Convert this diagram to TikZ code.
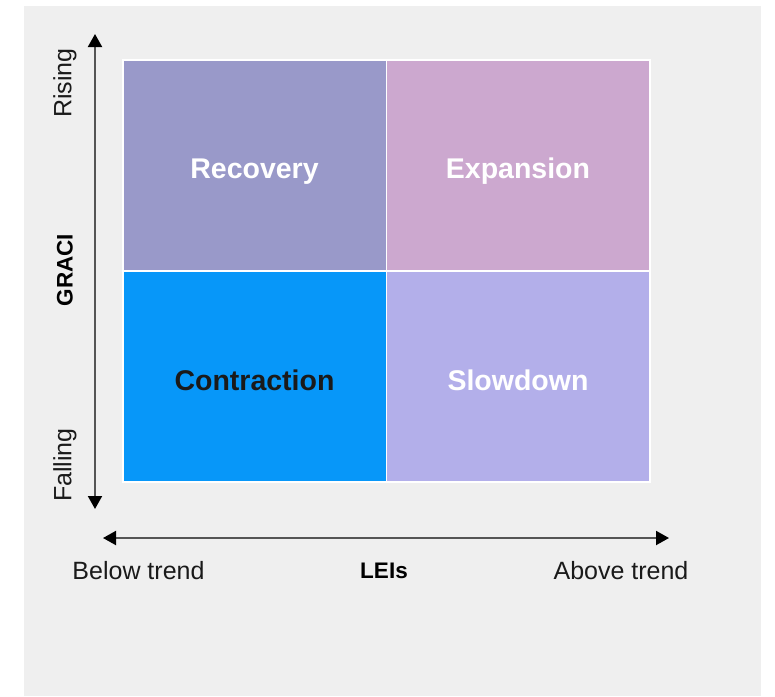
\documentclass[tikz,border=0pt]{standalone}
\usepackage{fontspec}
\setmainfont{Liberation Sans}
\usetikzlibrary{arrows.meta}
\definecolor{bg}{HTML}{EFEFEF}
\definecolor{recov}{HTML}{9999C9}
\definecolor{expan}{HTML}{CCA8CF}
\definecolor{contr}{HTML}{0797F9}
\definecolor{slowd}{HTML}{B3AFEA}
\definecolor{axisgrey}{HTML}{555555}
\definecolor{txt}{HTML}{1A1A1A}
\tikzset{
  cell/.style={draw=white, line width=1.2pt, minimum width=263.5pt, minimum height=211pt, inner sep=0pt,
    font=\fontsize{28.5}{33}\selectfont\bfseries, text=white},
  axisline/.style={draw=axisgrey, line width=2pt,
    {Triangle[length=13pt,width=14pt,color=black]}-{Triangle[length=13pt,width=14pt,color=black]}},
  axlab/.style={font=\fontsize{25}{29}\selectfont, text=txt},
  axbold/.style={font=\fontsize{22.5}{26}\selectfont\bfseries, text=black}
}
\begin{document}
\begin{tikzpicture}[x=1pt,y=-1pt]
\useasboundingbox (0,0) rectangle (775,696);
\fill[white] (0,0) rectangle (775,696);
\fill[bg] (24,6) rectangle (761,696);
\node[cell, fill=recov] (rec) at (254.75,165.5) {};
\node[cell, fill=expan] (exp) at (518.25,165.5) {};
\node[cell, fill=contr] (con) at (254.75,376.5) {};
\node[cell, fill=slowd] (slo) at (518.25,376.5) {};
\node[cell, draw=none, fill=none] (recl) at (254.5,171.5) {Recovery};
\node[cell, draw=none, fill=none] (expl) at (518,171.5) {Expansion};
\node[cell, draw=none, fill=none, text=txt] (conl) at (254.5,380) {Contraction};
\node[cell, draw=none, fill=none] (slol) at (518,380) {Slowdown};
\coordinate (vt) at (95,34);
\coordinate (vb) at (95,509);
\draw[axisline] (vt) -- (vb);
\coordinate (hl) at (103,538);
\coordinate (hr) at (669,538);
\draw[axisline] (hl) -- (hr);
\node[axlab, rotate=90] (rising) at (65,83) {Rising};
\node[axbold, rotate=90] (graci) at (65,270) {GRACI};
\node[axlab, rotate=90] (falling) at (65,465) {Falling};
\node[axlab] (below) at (138.5,571) {Below trend};
\node[axbold] (leis) at (384,571) {LEIs};
\node[axlab] (above) at (621,571) {Above trend};
\end{tikzpicture}
\end{document}
